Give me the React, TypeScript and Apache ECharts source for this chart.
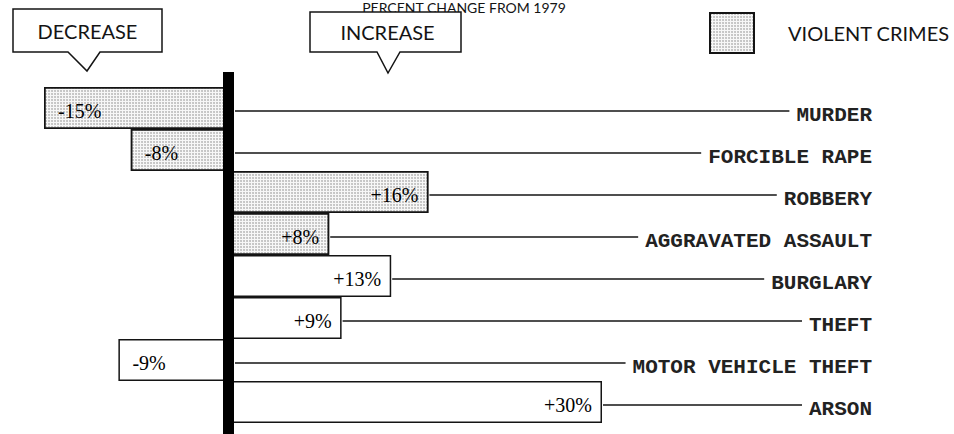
import React, { useEffect, useRef } from "react";
import * as echarts from "echarts";

const categories = [
  "MURDER",
  "FORCIBLE RAPE",
  "ROBBERY",
  "AGGRAVATED ASSAULT",
  "BURGLARY",
  "THEFT",
  "MOTOR VEHICLE THEFT",
  "ARSON",
];
const changes = [-15, -8, 16, 8, 13, 9, -9, 30];
const isViolent = [true, true, true, true, false, false, false, false];
const legendName = "VIOLENT CRIMES";
const titleText = "PERCENT CHANGE FROM 1979";

const INK = "#141414";
const LABEL_RIGHT = 872;

const fmt = (v: number) => (v > 0 ? "+" + v + "%" : v + "%");

const stipple = {
  symbol: "circle",
  symbolSize: 0.8,
  dashArrayX: [2, 1],
  dashArrayY: [2, 1],
  color: "rgba(60,60,60,0.4)",
  rotation: 0,
};

function barData(violent: boolean) {
  return changes.map((v, i) => {
    if (isViolent[i] !== violent) return "-";
    return {
      value: v,
      label: {
        position: v > 0 ? "insideRight" : "insideLeft",
        distance: v > 0 ? 10 : 14,
      },
    };
  });
}

export default function App() {
  const ref = useRef<HTMLDivElement>(null);
  useEffect(() => {
    if (!ref.current) return;
    const chart = echarts.init(ref.current, null, { renderer: "svg" });
    const barLabel = {
      show: true,
      formatter: (p: any) => fmt(p.value),
      fontFamily: "Liberation Serif",
      fontSize: 20,
      color: "#000",
      offset: [0, 3],
    };
    const barStyleBase = { borderColor: INK, borderWidth: 1.5 };
    chart.setOption({
      animation: false,
      backgroundColor: "#ffffff",
      grid: { left: 31.6, width: 694.4, top: 87, height: 336 },
      xAxis: { type: "value", min: -16, max: 40, show: false },
      yAxis: { type: "category", data: categories, inverse: true, show: false },
      legend: {
        data: [legendName],
        left: 709,
        top: 12,
        padding: 0,
        itemWidth: 44,
        itemHeight: 40,
        icon: "rect",
        selectedMode: false,
        itemStyle: { borderColor: INK, borderWidth: 2 },
        textStyle: {
          fontFamily: "Lato",
          fontSize: 20,
          color: INK,
          padding: [0, 0, 0, 29],
        },
      },
      graphic: [
        {
          type: "text",
          x: 464,
          y: 0,
          style: {
            text: titleText,
            align: "center",
            verticalAlign: "top",
            fontFamily: "Lato",
            fontSize: 14,
            fill: INK,
          },
        },
        {
          type: "polygon",
          shape: {
            points: [
              [13, 9], [162, 9], [162, 52], [100, 52], [87, 71], [68, 52], [13, 52],
            ],
          },
          style: { fill: "#fff", stroke: INK, lineWidth: 1.5 },
        },
        {
          type: "text",
          x: 87.5,
          y: 31,
          style: {
            text: "DECREASE",
            align: "center",
            verticalAlign: "middle",
            fontFamily: "Lato",
            fontSize: 20,
            fill: INK,
          },
        },
        {
          type: "polygon",
          shape: {
            points: [
              [310, 12], [461, 12], [461, 52], [400, 52], [388, 73], [377, 52], [310, 52],
            ],
          },
          style: { fill: "#fff", stroke: INK, lineWidth: 1.5 },
        },
        {
          type: "text",
          x: 387.5,
          y: 32,
          style: {
            text: "INCREASE",
            align: "center",
            verticalAlign: "middle",
            fontFamily: "Lato",
            fontSize: 20,
            fill: INK,
          },
        },
      ],
      series: [
        {
          name: legendName,
          type: "bar",
          data: barData(true),
          barCategoryGap: "0%",
          barGap: "-100%",
          itemStyle: { ...barStyleBase, color: "#f7f7f7", decal: stipple },
          label: barLabel,
        },
        {
          name: "OTHER",
          type: "bar",
          data: barData(false),
          barCategoryGap: "0%",
          barGap: "-100%",
          itemStyle: { ...barStyleBase, color: "#ffffff" },
          label: barLabel,
        },
        {
          type: "custom",
          z: 5,
          clip: false,
          data: changes.map((v, i) => [v, i]),
          renderItem: (params: any, api: any) => {
            const v = api.value(0);
            const i = api.value(1);
            const zero = api.coord([0, i]);
            const end = api.coord([v, i]);
            const cy = zero[1];
            const startX = v > 0 ? end[0] + 1 : zero[0] + 5;
            const children: any[] = [
              {
                type: "line",
                shape: { x1: startX, y1: cy + 3, x2: LABEL_RIGHT - 4, y2: cy + 3 },
                style: { stroke: INK, lineWidth: 1.5 },
              },
              {
                type: "text",
                style: {
                  text: categories[i],
                  x: LABEL_RIGHT,
                  y: cy + 7,
                  align: "right",
                  verticalAlign: "middle",
                  fontFamily: "Liberation Mono",
                  fontWeight: "bold",
                  fontSize: 21,
                  fill: "#222",
                  backgroundColor: "#ffffff",
                  padding: [0, 0, 0, 7],
                },
              },
            ];
            if (params.dataIndex === 0) {
              children.push({
                type: "rect",
                shape: { x: zero[0] - 7, y: 72, width: 11, height: 362 },
                style: { fill: "#000" },
              });
            }
            return { type: "group", children };
          },
        },
      ],
    });
    return () => chart.dispose();
  }, []);
  return (
    <div
      ref={ref}
      style={{ position: "fixed", left: 0, top: 0, width: 954, height: 434 }}
    />
  );
}
